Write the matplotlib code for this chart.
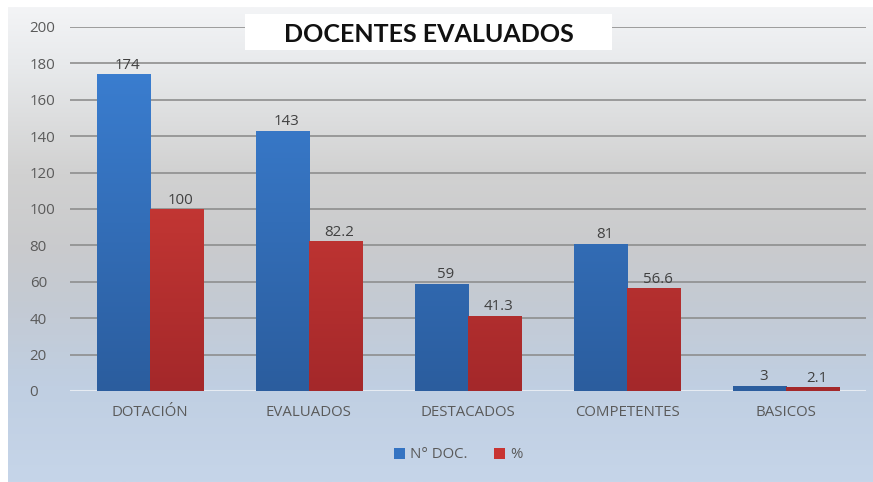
import numpy as np
import matplotlib
matplotlib.use("Agg")
import matplotlib.pyplot as plt
from matplotlib.colors import LinearSegmentedColormap
from matplotlib.patches import Patch

categories = ["DOTACIÓN", "EVALUADOS", "DESTACADOS", "COMPETENTES", "BASICOS"]
n_doc = [174, 143, 59, 81, 3]
pct = [100, 82.2, 41.3, 56.6, 2.1]
n_doc_labels = ["174", "143", "59", "81", "3"]
pct_labels = ["100", "82.2", "41.3", "56.6", "2.1"]
series_names = ["N° DOC.", "%"]
title = "DOCENTES EVALUADOS"
yticks = [0, 20, 40, 60, 80, 100, 120, 140, 160, 180, 200]

W, H = 873, 482
FONT = "Open Sans"
FS = 10.8
fig = plt.figure(figsize=(W / 100, H / 100), dpi=100)
fig.patch.set_facecolor("white")

# background gradient panel
bg = fig.add_axes([8 / W, 0.0 / H, 1 - 8 / W, 1 - 7 / H])
bg.set_axis_off()
bg_cmap = LinearSegmentedColormap.from_list(
    "bg",
    [(0.0, "#f3f4f6"), (0.12, "#e8eaec"), (0.35, "#d1d1d1"), (0.5, "#cacbcd"),
     (0.62, "#c4cad3"), (0.8, "#c0cfe2"), (1.0, "#c6d5e9")])
grad = np.linspace(0, 1, 256).reshape(-1, 1)
bg.imshow(grad, aspect="auto", cmap=bg_cmap, extent=[0, 1, 0, 1], origin="upper")
bg.set_xlim(0, 1)
bg.set_ylim(0, 1)

ax = fig.add_axes([70 / W, 1 - 391 / H, (866 - 70) / W, (391 - 27) / H])
ax.set_facecolor("none")
x = np.arange(len(categories))
w = 1 / 3

for s in ax.spines.values():
    s.set_visible(False)
ax.set_yticks(yticks)
ax.yaxis.grid(True, color="#8e8e8e", linewidth=1.2)
ax.set_axisbelow(True)
ax.axhline(0, color="#e6ebf2", linewidth=1.5, zorder=1)
ax.tick_params(axis="y", length=0, pad=29, labelsize=FS, labelcolor="#5a5a5a")
for lab in ax.get_yticklabels():
    lab.set_horizontalalignment("left")
    lab.set_fontfamily(FONT)
ax.set_xticks(x)
ax.set_xticklabels(categories, fontsize=FS, color="#5a5a5a", family=FONT)
ax.tick_params(axis="x", length=0, pad=10)

blue_cmap = LinearSegmentedColormap.from_list("b", ["#3a7dcf", "#2b5d9e"])
red_cmap = LinearSegmentedColormap.from_list("r", ["#d8403a", "#a4282a"])

def grad_bars(xs, vals, cmap, color):
    bars = ax.bar(xs, vals, width=w, color=color, zorder=2, linewidth=0)
    for b in bars:
        b.set_facecolor("none")
        x0 = b.get_x()
        bw = b.get_width()
        im = ax.imshow(np.linspace(0, 1, 256).reshape(-1, 1), aspect="auto",
                       cmap=cmap, extent=[x0, x0 + bw, 0, 174],
                       origin="upper", zorder=2)
        im.set_clip_path(b)
    return bars

grad_bars(x - w / 2, n_doc, blue_cmap, "#3473c2")
grad_bars(x + w / 2, pct, red_cmap, "#c83432")
ax.set_xlim(-0.5, len(categories) - 0.5)
ax.set_ylim(0, 200)

for xs, vals, labs in [(x - w / 2, n_doc, n_doc_labels), (x + w / 2, pct, pct_labels)]:
    for xi, v, l in zip(xs, vals, labs):
        ax.annotate(l, (xi, v), xytext=(3, 1.0), textcoords="offset points",
                    ha="center", va="bottom", fontsize=FS, color="#404040",
                    family=FONT, zorder=5)

# title box
fig.patches.append(plt.Rectangle((245 / W, 1 - 50 / H), (612 - 245) / W, 36 / H,
                                 transform=fig.transFigure, facecolor="white",
                                 edgecolor="none", zorder=3))
fig.text(429 / W, 1 - 35 / H, title, ha="center", va="center", fontsize=18,
         fontweight="bold", family="Lato", color="#111111", zorder=4)

# legend
handles = [Patch(facecolor="#3473c2"), Patch(facecolor="#c83432")]
leg = fig.legend(handles, series_names, loc="center", bbox_to_anchor=(458 / W, 1 - 455 / H),
                 ncol=2, frameon=False, handlelength=0.75, handleheight=0.75,
                 handletextpad=0.3, columnspacing=1.8,
                 prop={"family": FONT, "size": FS})
for t in leg.get_texts():
    t.set_color("#5a5a5a")

fig.savefig("out.png", dpi=100, facecolor="white")
